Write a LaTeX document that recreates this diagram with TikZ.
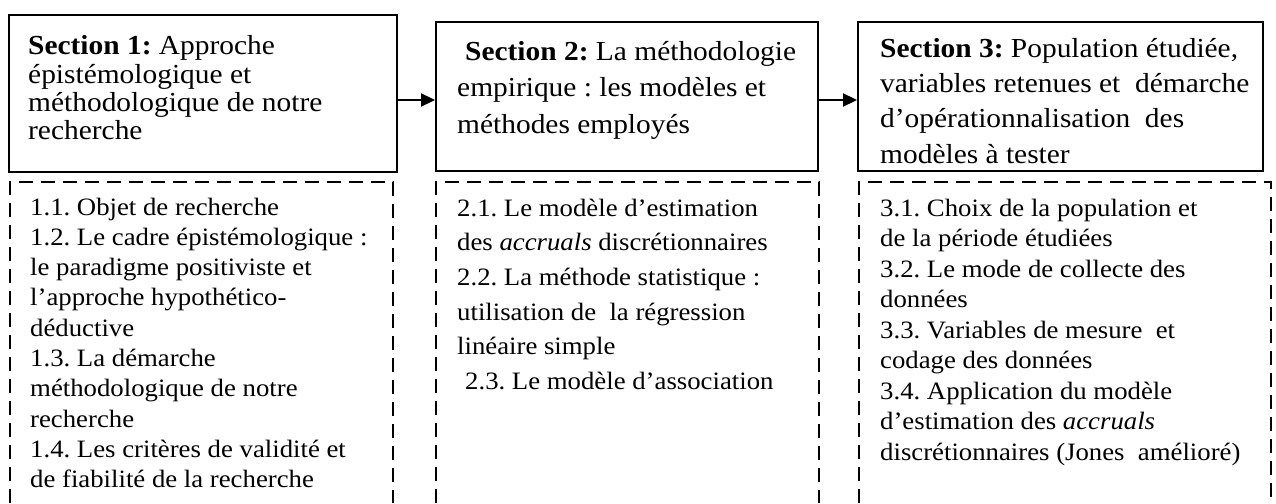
\documentclass[tikz,border=0pt]{standalone}
\usepackage{fontspec}
\setmainfont[FakeStretch=1.07]{Liberation Serif}
\usetikzlibrary{arrows.meta}
\frenchspacing
\newcommand\mylines[1]{\vtop{\hsize=430pt\raggedright\noindent #1\par}}
\begin{document}
\begin{tikzpicture}[x=1pt,y=-1pt,
  secbox/.style={draw,line width=2pt,inner sep=0pt},
  listbox/.style={draw,line width=1.8pt,dash pattern=on 14pt off 8pt},
  ttl/.style={anchor=base west,inner sep=0pt,font=\fontsize{27.5}{28.3}\selectfont},
  itm/.style={anchor=base west,inner sep=0pt,font=\fontsize{25}{30.3}\selectfont},
  link/.style={line width=2.2pt,-{Triangle[length=14pt,width=13pt]}}]
\useasboundingbox (0,0) rectangle (1276,503);
% section boxes
\node[secbox,minimum width=388pt,minimum height=157pt] (B1) at (203,93.5) {};
\node[secbox,minimum width=382pt,minimum height=149pt] (B2) at (627,96.5) {};
\node[secbox,minimum width=405pt,minimum height=149pt] (B3) at (1060.5,96.5) {};
% dashed content boxes (open at the bottom edge)
\draw[listbox] (10,503) |- (393,182) -- (393,503);
\draw[listbox] (436,503) |- (819,182) -- (819,503);
\draw[listbox] (859,503) |- (1271,182) -- (1271,503);
% titles
\node[ttl] (T1) at (28,55) {\mylines{\textbf{Section 1:} Approche\\épistémologique et\\méthodologique de notre\\recherche}};
\node[ttl,font=\fontsize{27.5}{36.5}\selectfont] (T2) at (457,60) {\mylines{\hspace*{8pt}\textbf{Section 2:} La méthodologie\\empirique : les modèles et\\méthodes employés}};
\node[ttl,font=\fontsize{27.5}{35}\selectfont] (T3) at (880,58) {\mylines{\textbf{Section 3:} Population étudiée,\\variables retenues et\ \ démarche\\d’opérationnalisation\ \ des\\modèles à tester}};
% lists
\node[itm] (L1) at (30,215) {\mylines{1.1. Objet de recherche\\1.2. Le cadre épistémologique :\\le paradigme positiviste et\\l’approche hypothético-\\déductive\\1.3. La démarche\\méthodologique de notre\\recherche\\1.4. Les critères de validité et\\de fiabilité de la recherche}};
\node[itm,font=\fontsize{25}{34.7}\selectfont] (L2) at (457,216) {\mylines{2.1. Le modèle d’estimation\\des \textit{accruals} discrétionnaires\\2.2. La méthode statistique :\\utilisation de\ \ la régression\\linéaire simple\\\hspace*{8pt}2.3. Le modèle d’association}};
\node[itm,font=\fontsize{25}{30.5}\selectfont] (L3) at (880,216) {\mylines{3.1. Choix de la population et\\de la période étudiées\\3.2. Le mode de collecte des\\données\\3.3. Variables de mesure\ \ et\\codage des données\\3.4. Application du modèle\\d’estimation des \textit{accruals}\\discrétionnaires (Jones\ \ amélioré)}};
% arrows
\coordinate (ay) at (0,100);
\draw[link] (B1.east |- ay) -- (B2.west |- ay);
\draw[link] (B2.east |- ay) -- (B3.west |- ay);
\end{tikzpicture}
\end{document}
